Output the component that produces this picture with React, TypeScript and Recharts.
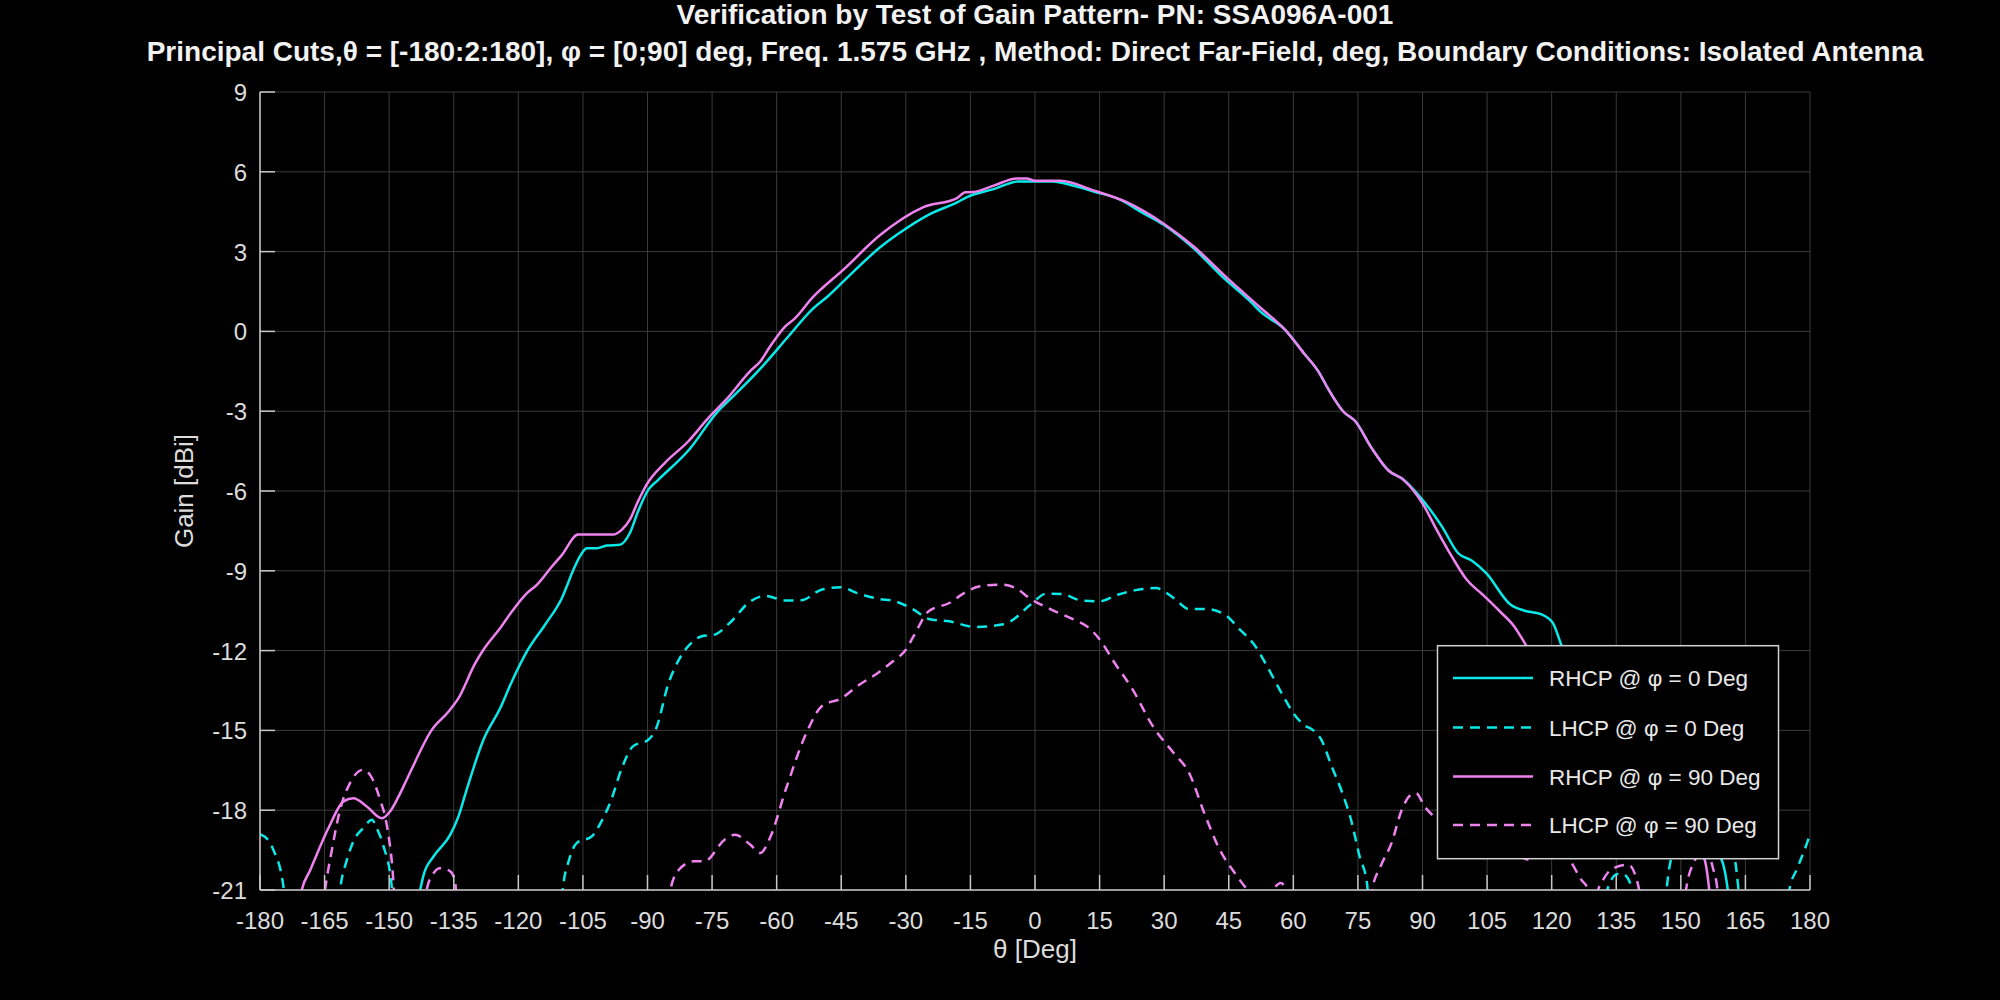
import { LineChart, Line, XAxis, YAxis, CartesianGrid } from 'recharts';

// theta ticks and gain ticks
const thetaTicks = [-180, -165, -150, -135, -120, -105, -90, -75, -60, -45, -30, -15, 0, 15, 30, 45, 60, 75, 90, 105, 120, 135, 150, 165, 180];
const gainTicks = [-21, -18, -15, -12, -9, -6, -3, 0, 3, 6, 9];

// [theta deg, gain dBi]; -24 marks where the trace is below the plot floor
const rhcpPhi0: [number, number][] = [
  [-180, -24], [-146, -24], [-142.8, -21], [-142, -20.43], [-139.7, -19.74], [-135.8, -18.92], [-133.9, -18.23],
  [-132, -17.23], [-128.1, -15.35], [-124.2, -14.16], [-121.5, -13.16], [-118, -12.03], [-113.8, -11.03],
  [-109.9, -10.03], [-107.2, -8.96], [-105.7, -8.46], [-104.1, -8.15], [-101.8, -8.15], [-99.5, -8.05],
  [-96.4, -8.02], [-94.1, -7.58], [-92.2, -6.77], [-89.8, -5.95], [-87.5, -5.58], [-80.2, -4.42], [-74, -3.07],
  [-69.7, -2.38], [-63.9, -1.42], [-62.3, -1.13], [-57.6, -0.25], [-51.8, 0.82], [-47.9, 1.35], [-44.5, 1.88],
  [-35.9, 3.17], [-32.1, 3.63], [-24.3, 4.42], [-18.1, 4.85], [-15.8, 5.05], [-9.6, 5.35], [-3.8, 5.64],
  [0, 5.64], [4.3, 5.64], [7.4, 5.54], [13.6, 5.26], [19.8, 4.95], [24.4, 4.51], [29.9, 4.01], [36.8, 3.13],
  [43.8, 2.01], [50, 1.13], [52.3, 0.75], [58.1, 0.06], [62.4, -0.81], [65.8, -1.5], [68.2, -2.19],
  [71.6, -3.01], [74.4, -3.38], [78.2, -4.39], [82.1, -5.23], [85.6, -5.58], [89.3, -6.2], [94.5, -7.33],
  [98.3, -8.34], [101.5, -8.62], [104.8, -9.09], [110.5, -10.28], [113.7, -10.5], [117.8, -10.65],
  [120.3, -10.97], [122.3, -11.81], [126, -13.2], [130, -14.5], [135, -15.8], [140, -16.9], [145, -17.8],
  [150, -18.5], [155, -19.1], [159.3, -19.8], [160.9, -21], [162.5, -24], [180, -24],
];

const lhcpPhi0: [number, number][] = [
  [-180, -18.9], [-178, -19.15], [-176.9, -19.49], [-174.5, -20.93], [-173, -24], [-163, -24], [-161.4, -21],
  [-159.8, -19.86], [-158.3, -19.17], [-156, -18.67], [-154, -18.36], [-152.9, -18.67], [-151.3, -19.36],
  [-149.4, -20.87], [-148, -24], [-111, -24], [-109.7, -21], [-108.2, -19.86], [-106.4, -19.23],
  [-102.9, -18.98], [-100.5, -18.36], [-98.7, -17.73], [-95.8, -16.35], [-93.4, -15.6], [-89.8, -15.35],
  [-88.1, -14.97], [-85.1, -13.22], [-82.7, -12.34], [-79.8, -11.71], [-77.4, -11.46], [-74.4, -11.4],
  [-70.9, -10.96], [-66.1, -10.15], [-62.6, -9.94], [-57.9, -10.12], [-54.3, -10.11], [-49.6, -9.71],
  [-45.1, -9.62], [-41.3, -9.84], [-36.5, -10.05], [-32.4, -10.15], [-28.2, -10.46], [-24.7, -10.81],
  [-19.9, -10.9], [-14, -11.11], [-8.1, -11.03], [-5.7, -10.9], [-1, -10.27], [2.6, -9.86], [6.1, -9.87],
  [10.9, -10.12], [15, -10.15], [19.2, -9.9], [23.9, -9.71], [28.1, -9.65], [32.2, -10.02], [35.8, -10.44],
  [39.9, -10.44], [44.1, -10.65], [47.6, -11.21], [51.2, -11.84], [53.5, -12.47], [57.7, -13.72], [60, -14.35],
  [62.8, -14.83], [64.5, -14.98], [66.5, -15.35], [68.9, -16.35], [71.4, -17.36], [73.4, -18.36],
  [75.4, -19.74], [77.1, -20.74], [78.5, -24], [131.5, -24], [132.9, -21], [135.3, -20.4], [136.5, -20.4],
  [138.6, -20.9], [140, -24], [145.5, -24], [146.7, -21], [147.9, -19.7], [151, -18.6], [155, -18],
  [159, -18.5], [162.6, -19.9], [163.4, -21], [165, -24], [174, -24], [175.2, -21], [177, -20.2],
  [179.3, -19.24], [180, -18.9],
];

const rhcpPhi90: [number, number][] = [
  [-180, -24], [-173, -24], [-170.3, -21], [-168.3, -20.24], [-164.1, -18.67], [-160.6, -17.67], [-158.3, -17.55],
  [-155.2, -17.86], [-151.7, -18.3], [-149.8, -18.05], [-147.8, -17.48], [-145.2, -16.6], [-140.1, -14.98],
  [-136.2, -14.29], [-133.9, -13.79], [-130, -12.47], [-128.1, -11.97], [-124.2, -11.15], [-121.5, -10.53],
  [-118, -9.84], [-115.7, -9.53], [-112.2, -8.84], [-110, -8.43], [-106.1, -7.64], [-98, -7.64], [-96, -7.46],
  [-94.1, -7.08], [-92.2, -6.39], [-90.2, -5.76], [-86, -4.95], [-80.5, -4.13], [-75.9, -3.26], [-71.6, -2.54],
  [-66.2, -1.5], [-63.8, -1.13], [-61.5, -0.56], [-58, 0.19], [-55.7, 0.5], [-51.8, 1.25], [-44.5, 2.32],
  [-35.9, 3.63], [-25.9, 4.67], [-18.1, 5.01], [-16.2, 5.23], [-14.3, 5.24], [-9.6, 5.48], [-4.2, 5.75],
  [-1.9, 5.75], [0, 5.66], [5.9, 5.66], [13.6, 5.3], [21.3, 4.86], [29.9, 4.05], [36.8, 3.2], [44.6, 2.01],
  [52.3, 0.9], [58.1, 0.06], [62.4, -0.81], [65.8, -1.5], [68.2, -2.19], [71.6, -3.01], [74.4, -3.38],
  [78.2, -4.39], [82.1, -5.23], [85.6, -5.58], [90.2, -6.52], [93.3, -7.46], [96.8, -8.46], [100.3, -9.34],
  [104, -9.9], [108, -10.53], [111.3, -11.09], [114.1, -11.81], [120, -13.3], [125, -14.5], [130, -15.6],
  [135, -16.6], [140, -17.4], [145, -18.2], [150, -18.9], [155.4, -19.8], [156.6, -21], [158, -24], [180, -24],
];

const lhcpPhi90: [number, number][] = [
  [-180, -24], [-167, -24], [-164.9, -21], [-163.3, -19.49], [-161.4, -17.98], [-159.1, -16.98], [-156, -16.48],
  [-154, -16.79], [-152.1, -17.61], [-150.5, -18.61], [-149, -20.74], [-148, -24], [-142.5, -24], [-141.3, -21],
  [-139.7, -20.37], [-138.2, -20.18], [-135.8, -20.3], [-134.7, -20.68], [-133.5, -24], [-86, -24],
  [-84.7, -21], [-82.7, -20.24], [-79.2, -19.92], [-76.8, -19.92], [-72.1, -19.11], [-69.7, -18.92],
  [-66.1, -19.3], [-63.8, -19.61], [-61.4, -18.98], [-57.9, -17.23], [-53.1, -15.1], [-49.6, -14.1],
  [-44.8, -13.78], [-41.3, -13.34], [-36.5, -12.84], [-33, -12.4], [-30, -11.97], [-28.2, -11.46],
  [-24.7, -10.52], [-19.9, -10.21], [-16.4, -9.83], [-12.8, -9.58], [-7.5, -9.52], [-4.5, -9.65], [-1, -10.06],
  [3.8, -10.46], [9.1, -10.84], [12.1, -11.09], [15.6, -11.71], [18, -12.34], [22.7, -13.47], [27.4, -14.85],
  [32.2, -15.85], [35.8, -16.6], [39.3, -18.1], [42.9, -19.48], [46.4, -20.36], [49.4, -21], [52, -21.4],
  [55, -21], [57.1, -20.74], [58.5, -21.1], [60, -24], [76.5, -24], [78.3, -21], [80.3, -20.1], [82.8, -19.24],
  [85.2, -17.98], [87.3, -17.42], [88.5, -17.36], [90.5, -17.86], [93.4, -18.36], [100, -19.2], [106, -18.8],
  [110, -19.3], [114.5, -19.85], [118, -19.4], [121, -19.3], [124.3, -19.9], [126.8, -20.6], [128.5, -21],
  [129.5, -24], [130, -24], [130.8, -21], [132, -20.6], [134.1, -20.2], [137.8, -20.05], [140.2, -20.9],
  [141, -24], [150, -24], [151.2, -21], [153.2, -19.9], [155.5, -19.4], [157.5, -20.2], [158.5, -21],
  [159.5, -24], [180, -24],
];

const CYAN = '#0ae8e8';
const VIOLET = '#ee82ee';
const AXIS = '#c8c8c8';
const TEXT = '#dcdcdc';
const FONT = '"Liberation Sans", Arial, Helvetica, sans-serif';

const series = [
  { name: 'RHCP @ φ = 0 Deg', points: rhcpPhi0, color: CYAN, dash: undefined },
  { name: 'LHCP @ φ = 0 Deg', points: lhcpPhi0, color: CYAN, dash: '10 7' },
  { name: 'RHCP @ φ = 90 Deg', points: rhcpPhi90, color: VIOLET, dash: undefined },
  { name: 'LHCP @ φ = 90 Deg', points: lhcpPhi90, color: VIOLET, dash: '10 7' },
];

const toRows = (pts: [number, number][]) => pts.map(([theta, gain]) => ({ theta, gain }));

const XTick = ({ x, y, payload }: any) => (
  <g>
    <line x1={x} x2={x} y1={y} y2={y - 15} stroke={AXIS} strokeWidth={1.5} />
    <text x={x} y={y + 39} textAnchor="middle" fontSize={24} fill={TEXT} fontFamily={FONT}>
      {payload.value}
    </text>
  </g>
);

const YTick = ({ x, y, payload }: any) => (
  <g>
    <line x1={x} x2={x + 15} y1={y} y2={y} stroke={AXIS} strokeWidth={1.5} />
    <text x={x - 13} y={y + 9} textAnchor="end" fontSize={24} fill={TEXT} fontFamily={FONT}>
      {payload.value}
    </text>
  </g>
);

export default function App() {
  const legendRows = [678, 727.5, 776.5, 825];
  return (
    <div style={{ position: 'absolute', left: 0, top: 0, width: 2000, height: 1000, background: '#000', overflow: 'hidden' }}>
      <LineChart width={2000} height={1000} margin={{ top: 92, right: 190, bottom: 109, left: 259 }}>
        <CartesianGrid stroke="#3a3a3a" strokeWidth={1} />
        <XAxis
          type="number"
          dataKey="theta"
          domain={[-180, 180]}
          ticks={thetaTicks}
          interval={0}
          allowDataOverflow
          height={1}
          tickSize={0}
          tickMargin={0}
          tickLine={false}
          axisLine={{ stroke: AXIS, strokeWidth: 1.5 }}
          tick={XTick}
        />
        <YAxis
          type="number"
          dataKey="gain"
          domain={[-21, 9]}
          ticks={gainTicks}
          interval={0}
          allowDataOverflow
          width={1}
          tickSize={0}
          tickMargin={0}
          tickLine={false}
          axisLine={{ stroke: AXIS, strokeWidth: 1.5 }}
          tick={YTick}
        />
        {series.map((s) => (
          <Line
            key={s.name}
            data={toRows(s.points)}
            dataKey="gain"
            name={s.name}
            type="monotone"
            stroke={s.color}
            strokeWidth={2.5}
            strokeDasharray={s.dash}
            dot={false}
            activeDot={false}
            isAnimationActive={false}
          />
        ))}
      </LineChart>
      <svg width={2000} height={1000} style={{ position: 'absolute', left: 0, top: 0, pointerEvents: 'none' }}>
        <text x={1035} y={24} textAnchor="middle" fontSize={28} fontWeight="bold" fill="#f2f2f2" fontFamily={FONT}>
          Verification by Test of Gain Pattern- PN: SSA096A-001
        </text>
        <text x={1035} y={61} textAnchor="middle" fontSize={28} fontWeight="bold" fill="#f2f2f2" fontFamily={FONT}>
          Principal Cuts,θ = [-180:2:180], φ = [0;90] deg, Freq. 1.575 GHz , Method: Direct Far-Field, deg, Boundary Conditions: Isolated Antenna
        </text>
        <text x={1035} y={958} textAnchor="middle" fontSize={26} fill={TEXT} fontFamily={FONT}>
          θ [Deg]
        </text>
        <text
          x={184}
          y={491}
          textAnchor="middle"
          fontSize={26}
          fill={TEXT}
          fontFamily={FONT}
          transform="rotate(-90 184 491)"
          dominantBaseline="central"
        >
          Gain [dBi]
        </text>
        <rect x={1437.5} y={645.7} width={341} height={213} fill="#000" stroke="#d0d0d0" strokeWidth={1.5} />
        {series.map((s, i) => (
          <g key={s.name}>
            <line
              x1={1453}
              x2={1533}
              y1={legendRows[i]}
              y2={legendRows[i]}
              stroke={s.color}
              strokeWidth={2.5}
              strokeDasharray={s.dash}
            />
            <text x={1549} y={legendRows[i] + 8} fontSize={22.5} fill="#e8e8e8" fontFamily={FONT}>
              {s.name}
            </text>
          </g>
        ))}
      </svg>
    </div>
  );
}
